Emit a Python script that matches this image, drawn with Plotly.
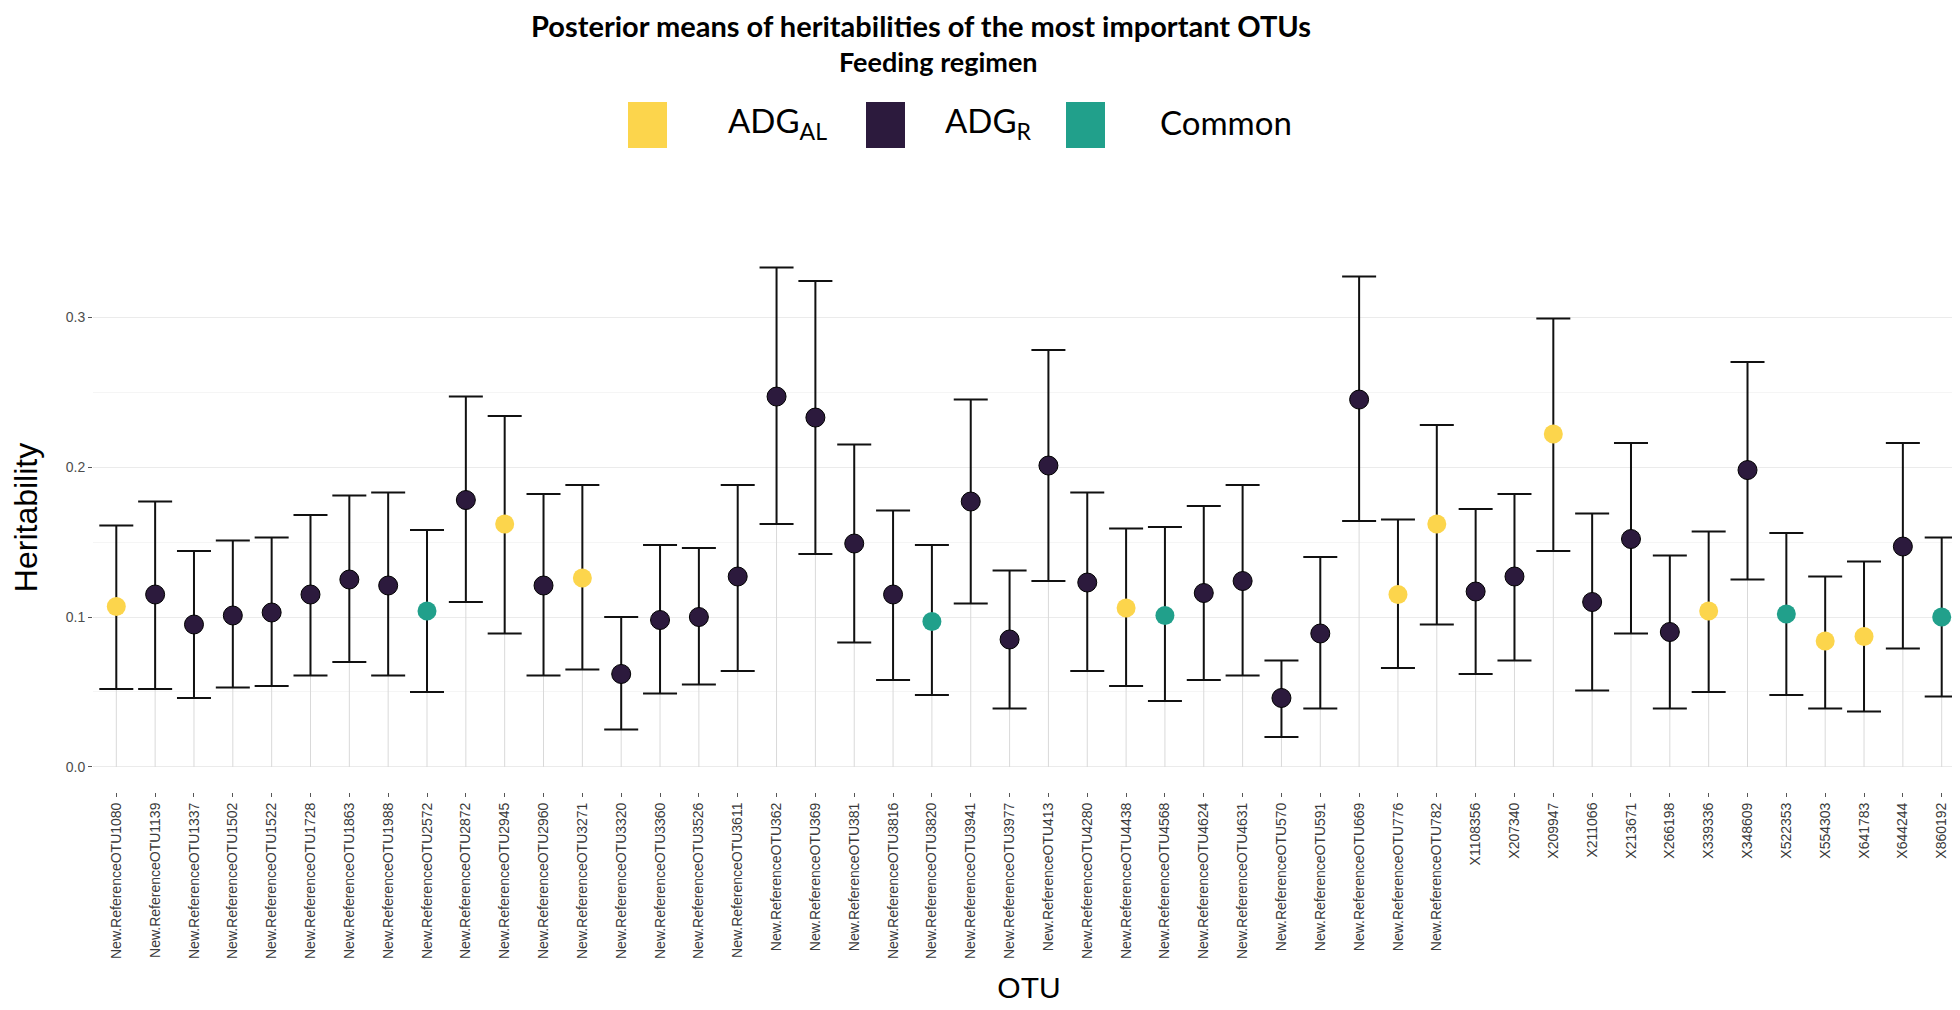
import plotly.graph_objects as go

otus = [
    "New.ReferenceOTU1080", "New.ReferenceOTU1139", "New.ReferenceOTU1337", "New.ReferenceOTU1502",
    "New.ReferenceOTU1522", "New.ReferenceOTU1728", "New.ReferenceOTU1863", "New.ReferenceOTU1988",
    "New.ReferenceOTU2572", "New.ReferenceOTU2872", "New.ReferenceOTU2945", "New.ReferenceOTU2960",
    "New.ReferenceOTU3271", "New.ReferenceOTU3320", "New.ReferenceOTU3360", "New.ReferenceOTU3526",
    "New.ReferenceOTU3611", "New.ReferenceOTU362", "New.ReferenceOTU369", "New.ReferenceOTU381",
    "New.ReferenceOTU3816", "New.ReferenceOTU3820", "New.ReferenceOTU3941", "New.ReferenceOTU3977",
    "New.ReferenceOTU413", "New.ReferenceOTU4280", "New.ReferenceOTU4438", "New.ReferenceOTU4568",
    "New.ReferenceOTU4624", "New.ReferenceOTU4631", "New.ReferenceOTU570", "New.ReferenceOTU591",
    "New.ReferenceOTU669", "New.ReferenceOTU776", "New.ReferenceOTU782",
    "X1108356", "X207340", "X209947", "X211066", "X213671", "X266198", "X339336",
    "X348609", "X522353", "X554303", "X641783", "X644244", "X860192",
]

group = [
    "AL", "R", "R", "R", "R", "R", "R", "R", "C", "R", "AL", "R", "AL", "R", "R", "R",
    "R", "R", "R", "R", "R", "C", "R", "R", "R", "R", "AL", "C", "R", "R", "R", "R",
    "R", "AL", "AL",
    "R", "R", "AL", "R", "R", "R", "AL", "R", "C", "AL", "AL", "R", "C",
]

mean = [
    0.107, 0.115, 0.095, 0.101, 0.103, 0.115, 0.125, 0.121, 0.104, 0.178, 0.162, 0.121, 0.126, 0.062, 0.098, 0.100,
    0.127, 0.247, 0.233, 0.149, 0.115, 0.097, 0.177, 0.085, 0.201, 0.123, 0.106, 0.101, 0.116, 0.124, 0.046, 0.089,
    0.245, 0.115, 0.162,
    0.117, 0.127, 0.222, 0.110, 0.152, 0.090, 0.104, 0.198, 0.102, 0.084, 0.087, 0.147, 0.100,
]

upper = [
    0.161, 0.177, 0.144, 0.151, 0.153, 0.168, 0.181, 0.183, 0.158, 0.247, 0.234, 0.182, 0.188, 0.100, 0.148, 0.146,
    0.188, 0.333, 0.324, 0.215, 0.171, 0.148, 0.245, 0.131, 0.278, 0.183, 0.159, 0.160, 0.174, 0.188, 0.071, 0.140,
    0.327, 0.165, 0.228,
    0.172, 0.182, 0.299, 0.169, 0.216, 0.141, 0.157, 0.270, 0.156, 0.127, 0.137, 0.216, 0.153,
]

lower = [
    0.052, 0.052, 0.046, 0.053, 0.054, 0.061, 0.070, 0.061, 0.050, 0.110, 0.089, 0.061, 0.065, 0.025, 0.049, 0.055,
    0.064, 0.162, 0.142, 0.083, 0.058, 0.048, 0.109, 0.039, 0.124, 0.064, 0.054, 0.044, 0.058, 0.061, 0.020, 0.039,
    0.164, 0.066, 0.095,
    0.062, 0.071, 0.144, 0.051, 0.089, 0.039, 0.050, 0.125, 0.048, 0.039, 0.037, 0.079, 0.047,
]

y_ticks = [0.0, 0.1, 0.2, 0.3]
y_tick_labels = ["0.0", "0.1", "0.2", "0.3"]

colors = {"AL": "#FCD54C", "R": "#2C1A3D", "C": "#21A08B"}
legend_labels = {"AL": "ADG<sub>AL</sub>", "R": "ADG<sub>R</sub>", "C": "Common"}

W, H = 1960, 1010
ML, MR, MT, MB = 85, 3, 235, 226
PW, PH = W - ML - MR, H - MT - MB


def px_x(px):
    return (px - ML) / PW


def px_y(py):
    return (H - MB - py) / PH


fig = go.Figure()

# light grey stems from zero to the estimate
fig.add_trace(go.Scatter(
    x=otus, y=mean, mode="markers",
    marker=dict(size=1, color="rgba(0,0,0,0)"),
    error_y=dict(type="data", symmetric=False, array=[0] * len(mean), arrayminus=mean,
                 color="#d9d9d9", thickness=1, width=0),
    hoverinfo="skip", showlegend=False,
))

# error bars + points
fig.add_trace(go.Scatter(
    x=otus, y=mean, mode="markers",
    marker=dict(size=19, color=[colors[g] for g in group],
                line=dict(width=[1 if g == "R" else 0 for g in group], color="#000000")),
    error_y=dict(type="data", symmetric=False,
                 array=[u - m for u, m in zip(upper, mean)],
                 arrayminus=[m - l for m, l in zip(mean, lower)],
                 color="#111111", thickness=2, width=17),
    showlegend=False,
))

# manual legend
sq_left = {"AL": 620, "R": 858, "C": 1058}
txt_left = {"AL": 718, "R": 935, "C": 1150}
for g in ["AL", "R", "C"]:
    fig.add_shape(type="rect", xref="paper", yref="paper",
                  x0=px_x(sq_left[g]), x1=px_x(sq_left[g] + 39),
                  y0=px_y(140), y1=px_y(94),
                  fillcolor=colors[g], line=dict(width=0))
    fig.add_annotation(xref="paper", yref="paper", x=px_x(txt_left[g]), y=px_y(114),
                       text=legend_labels[g], showarrow=False, xanchor="left", yanchor="middle",
                       font=dict(family="Lato", size=33, color="#000000"))

fig.add_annotation(xref="paper", yref="paper", x=px_x(930), y=px_y(54),
                   text="<b>Feeding regimen</b>", showarrow=False, xanchor="center", yanchor="middle",
                   font=dict(family="Lato", size=27, color="#000000"))

fig.update_layout(
    width=W, height=H,
    margin=dict(l=ML, r=MR, t=MT, b=MB),
    paper_bgcolor="white", plot_bgcolor="white",
    title=dict(text="<b>Posterior means of heritabilities of the most important OTUs</b>",
               x=913 / W, xanchor="center", y=1 - 19 / H, yanchor="middle",
               font=dict(family="Lato", size=29, color="#000000")),
    xaxis=dict(
        type="category", range=[-0.6, len(otus) - 0.4],
        tickangle=-90, tickfont=dict(family="Liberation Sans", size=14, color="#3a3a3a"),
        ticks="outside", ticklen=4, tickcolor="#555555", tickwidth=1,
        showgrid=False, zeroline=False, showline=False,
        title=dict(text="OTU", font=dict(family="Liberation Sans", size=30, color="#000000"), standoff=18),
    ),
    yaxis=dict(
        range=[-0.0167, 0.3494],
        tickvals=y_ticks, ticktext=y_tick_labels,
        tickfont=dict(family="Liberation Sans", size=14, color="#4d4d4d"),
        ticks="outside", ticklen=4, tickcolor="#555555", tickwidth=1,
        showgrid=True, gridcolor="#ebebeb", gridwidth=1,
        minor=dict(tickvals=[0.05, 0.15, 0.25], showgrid=True, gridcolor="#f5f5f5", gridwidth=1, ticks=""),
        zeroline=False, showline=False,
        title=dict(text="Heritability", font=dict(family="Liberation Sans", size=32, color="#000000"), standoff=18),
    ),
)

fig.write_html("out.html")
